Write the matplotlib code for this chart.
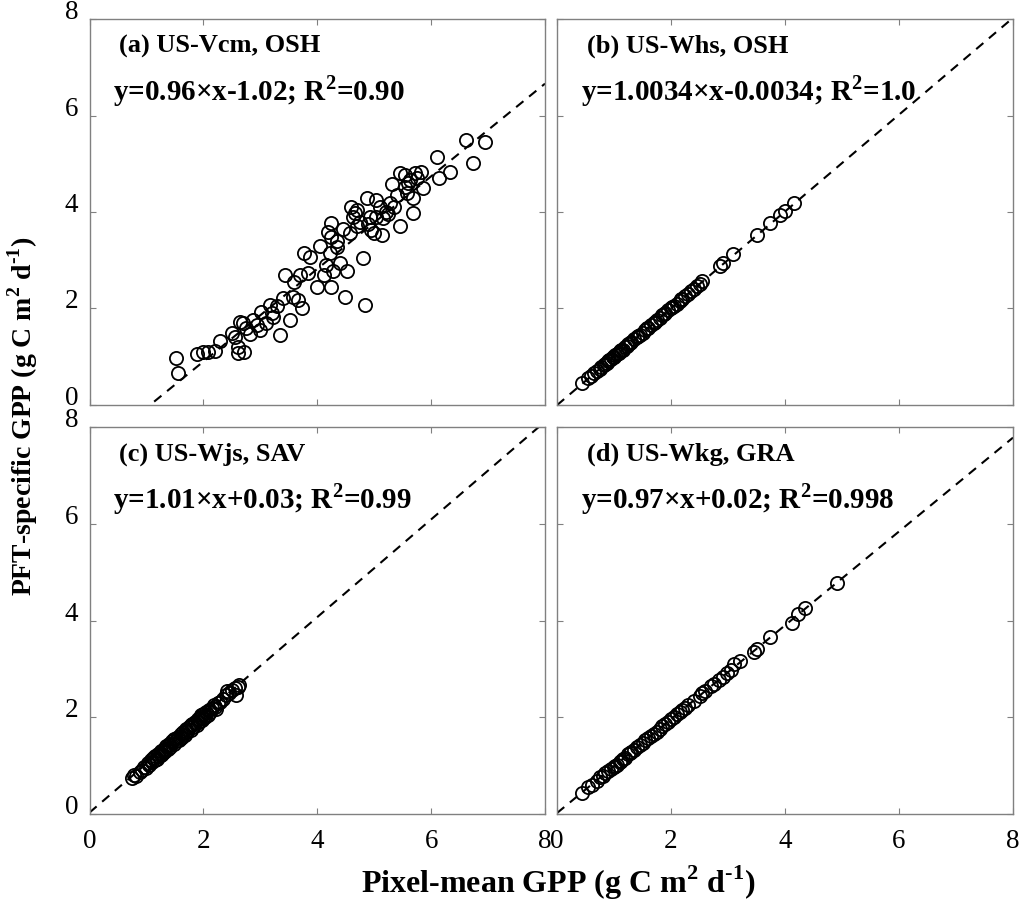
import matplotlib
matplotlib.use('Agg')
import matplotlib.pyplot as plt
import numpy as np

plt.rcParams['font.family'] = ['Liberation Serif', 'DejaVu Serif']
plt.rcParams['mathtext.fontset'] = 'custom'
plt.rcParams['mathtext.rm'] = 'Liberation Serif'
plt.rcParams['mathtext.bf'] = 'Liberation Serif:bold'

# (a) US-Vcm
xa = [1.52, 1.56, 1.89, 2.00, 2.09, 2.29, 2.50, 2.61, 2.61, 2.71, 2.64, 2.70, 2.82, 2.88,
      3.00, 3.02, 3.17, 3.20, 3.23, 3.35, 3.43, 3.40, 3.52, 3.58, 3.67, 3.73, 3.70, 3.76,
      3.87, 3.84, 3.99, 4.11, 4.19, 4.25, 4.25, 4.22, 4.34, 4.40, 4.25, 4.28, 4.52, 4.49,
      4.57, 4.60, 4.63, 4.69, 4.66, 4.81, 4.84, 4.87, 4.93, 4.99, 5.04, 5.04, 5.13, 5.16,
      5.28, 5.34, 5.31, 5.45, 5.45, 5.54, 5.54, 5.63, 5.69, 5.69, 5.72, 5.83, 5.86, 6.10,
      6.13, 6.33, 6.62, 6.74, 6.94, 5.40, 5.58, 5.20, 4.75, 4.45, 3.10, 2.95, 3.30, 4.05,
      4.70, 5.10, 5.60, 2.75, 4.15, 4.90, 2.20, 2.55, 3.60, 4.35, 4.95, 5.25, 5.75]
ya = [0.97, 0.67, 1.05, 1.10, 1.10, 1.33, 1.50, 1.21, 1.07, 1.10, 1.73, 1.70, 1.48, 1.76,
      1.55, 1.93, 2.07, 1.90, 1.83, 1.45, 2.69, 2.21, 1.76, 2.24, 2.17, 2.00, 2.69, 3.16,
      3.07, 2.73, 2.45, 2.69, 3.59, 3.77, 3.49, 3.14, 3.28, 2.94, 2.45, 2.77, 2.77, 2.24,
      3.56, 4.11, 3.90, 3.70, 3.97, 3.04, 2.07, 4.28, 3.90, 3.56, 4.25, 3.90, 3.52, 3.87,
      4.18, 4.11, 4.59, 3.70, 4.80, 4.77, 4.52, 4.66, 3.97, 4.28, 4.80, 4.83, 4.49, 5.15,
      4.70, 4.83, 5.49, 5.02, 5.46, 4.35, 4.40, 4.00, 3.80, 3.65, 1.70, 1.65, 2.05, 3.30,
      4.05, 4.10, 4.60, 1.60, 2.90, 3.75, 1.12, 1.40, 2.55, 3.40, 3.62, 3.95, 4.70]

# (b) US-Whs
xb = [0.43, 0.55, 0.60, 0.65, 0.70, 0.75, 0.78, 0.82, 0.85, 0.88, 0.90, 0.95, 0.98, 1.00,
      1.05, 1.08, 1.10, 1.15, 1.20, 1.22, 1.25, 1.30, 1.35, 1.40, 1.45, 1.50, 1.55, 1.60,
      1.65, 1.70, 1.75, 1.80, 1.85, 1.90, 1.95, 2.00, 2.05, 2.10, 2.15, 2.20, 2.25, 2.30,
      2.35, 2.40, 2.45, 2.50, 2.55, 2.86, 2.92, 3.09, 3.50, 3.74, 3.91, 4.00, 4.15, 1.12,
      1.28, 1.42, 1.58, 1.72, 1.88, 2.02, 2.18, 0.92, 1.02]
yb = [0.45, 0.56, 0.60, 0.66, 0.71, 0.75, 0.79, 0.82, 0.86, 0.88, 0.91, 0.95, 0.99, 1.00,
      1.06, 1.08, 1.11, 1.15, 1.21, 1.22, 1.26, 1.30, 1.36, 1.40, 1.46, 1.50, 1.56, 1.60,
      1.66, 1.70, 1.76, 1.80, 1.86, 1.90, 1.96, 2.00, 2.06, 2.10, 2.16, 2.20, 2.26, 2.30,
      2.36, 2.40, 2.46, 2.51, 2.56, 2.88, 2.94, 3.12, 3.53, 3.77, 3.94, 4.03, 4.18, 1.13,
      1.29, 1.43, 1.59, 1.73, 1.89, 2.03, 2.19, 0.93, 1.03]

# (c) US-Wjs
xc = [0.74, 0.78, 0.82, 0.88, 0.92, 0.95, 1.00, 1.02, 1.05, 1.08, 1.10, 1.12, 1.15, 1.18,
      1.20, 1.22, 1.25, 1.28, 1.30, 1.32, 1.35, 1.38, 1.40, 1.42, 1.45, 1.48, 1.50, 1.52,
      1.55, 1.58, 1.60, 1.62, 1.65, 1.68, 1.70, 1.72, 1.75, 1.78, 1.80, 1.82, 1.85, 1.88,
      1.90, 1.92, 1.95, 1.98, 2.00, 2.02, 2.05, 2.08, 2.10, 2.12, 2.15, 2.20, 2.22, 2.25,
      2.30, 2.35, 2.40, 2.41, 2.45, 2.50, 2.55, 2.58, 2.60, 2.62, 1.30, 1.40, 1.60, 1.70,
      1.85, 2.00, 1.15, 1.25, 1.48, 1.78, 1.95, 2.18]
yc = [0.74, 0.80, 0.78, 0.86, 0.90, 0.98, 0.96, 1.05, 1.02, 1.12, 1.08, 1.15, 1.20, 1.14,
      1.25, 1.20, 1.30, 1.24, 1.35, 1.30, 1.40, 1.34, 1.45, 1.38, 1.50, 1.44, 1.55, 1.50,
      1.60, 1.54, 1.66, 1.60, 1.70, 1.64, 1.76, 1.70, 1.80, 1.74, 1.86, 1.80, 1.90, 1.84,
      1.96, 1.90, 2.00, 1.94, 2.06, 2.00, 2.10, 2.04, 2.15, 2.10, 2.20, 2.22, 2.18, 2.30,
      2.32, 2.38, 2.46, 2.55, 2.50, 2.56, 2.60, 2.46, 2.62, 2.66, 1.28, 1.42, 1.58, 1.72,
      1.88, 1.98, 1.12, 1.22, 1.56, 1.84, 2.04, 2.26]

# (d) US-Wkg
xd = [0.43, 0.55, 0.62, 0.70, 0.75, 0.80, 0.85, 0.90, 0.95, 1.00, 1.05, 1.10, 1.15, 1.20,
      1.25, 1.30, 1.35, 1.40, 1.50, 1.55, 1.60, 1.70, 1.75, 1.80, 1.85, 1.90, 2.00, 2.05,
      2.10, 2.20, 2.25, 2.30, 2.40, 2.50, 2.55, 2.60, 2.70, 2.75, 2.85, 2.92, 2.98, 3.05,
      3.10, 3.21, 3.45, 3.50, 3.74, 4.12, 4.23, 4.35, 4.91, 1.12, 1.28, 1.45, 1.65, 1.95,
      2.15, 1.02]
yd = [0.43, 0.55, 0.60, 0.68, 0.76, 0.78, 0.84, 0.88, 0.94, 0.98, 1.02, 1.08, 1.14, 1.16,
      1.24, 1.28, 1.32, 1.38, 1.46, 1.52, 1.58, 1.66, 1.70, 1.76, 1.82, 1.86, 1.96, 2.00,
      2.06, 2.14, 2.20, 2.26, 2.34, 2.44, 2.50, 2.54, 2.64, 2.68, 2.78, 2.84, 2.91, 2.98,
      3.10, 3.17, 3.35, 3.42, 3.65, 3.95, 4.14, 4.25, 4.78, 1.10, 1.26, 1.42, 1.62, 1.90,
      2.10, 1.00]

titles = ['(a) US-Vcm, OSH', '(b) US-Whs, OSH', '(c) US-Wjs, SAV', '(d) US-Wkg, GRA']
eqs = [r'y=0.96×x-1.02; R$^{\mathbf{2}}$=0.90',
       r'y=1.0034×x-0.0034; R$^{\mathbf{2}}$=1.0',
       r'y=1.01×x+0.03; R$^{\mathbf{2}}$=0.99',
       r'y=0.97×x+0.02; R$^{\mathbf{2}}$=0.998']
slopes = [0.96, 1.0034, 1.01, 0.97]
intercepts = [-1.02, -0.0034, 0.03, 0.02]
ticks = [0, 2, 4, 6, 8]
xs = [xa, xb, xc, xd]
ys = [ya, yb, yc, yd]

W, H = 1019, 909
fig = plt.figure(figsize=(W / 100, H / 100), dpi=100)
# axes rectangles in pixels: left, top, right, bottom
rects = [(89.5, 19, 545, 405), (557, 19, 1013, 405),
         (89.5, 427, 545, 814), (557, 427, 1013, 814)]

for i in range(4):
    l, t, r, b = rects[i]
    ax = fig.add_axes([l / W, 1 - b / H, (r - l) / W, (b - t) / H])
    ax.plot(xs[i], ys[i], 'o', mfc='none', mec='black', ms=9.5, mew=1.3, zorder=3)
    xx = np.array([0, 8])
    ax.plot(xx, slopes[i] * xx + intercepts[i], '--', color='black', lw=1.5,
            dashes=(4.5, 3.5), zorder=2)
    ax.set_xlim(0, 8)
    ax.set_ylim(0, 8)
    ax.set_xticks(ticks)
    ax.set_yticks(ticks)
    ax.tick_params(direction='in', top=True, right=True, length=4, width=0.8,
                   color='#808080', labelsize=19.5)
    ax.tick_params(axis='x', pad=11)
    ax.tick_params(axis='y', pad=8)
    for sp in ax.spines.values():
        sp.set_color('#808080')
        sp.set_linewidth(1.0)
    if i < 2:
        ax.set_xticklabels([])
    if i % 2 == 1:
        ax.set_yticklabels([])
    else:
        # labels sit a little above their ticks, as in the original
        ax.set_yticklabels([str(v) for v in ticks], va='baseline', fontsize=19.5)
    ax.text(0.065, 0.912, titles[i], transform=ax.transAxes, fontsize=19,
            fontweight='bold', va='baseline')
    ax.text(0.052, 0.79, eqs[i], transform=ax.transAxes, fontsize=21,
            fontweight='bold', va='baseline')

fig.text(0.548, 0.029, 'Pixel-mean GPP (g C m$^{\\mathbf{2}}$ d$^{\\mathbf{\u2010 1}}$)',
         ha='center', va='center', fontsize=23, fontweight='bold')
fig.text(0.022, 0.542, 'PFT-specific GPP (g C m$^{\\mathbf{2}}$ d$^{\\mathbf{\u2010 1}}$)',
         ha='center', va='center', rotation=90, fontsize=20, fontweight='bold')

fig.savefig('out.png', dpi=100)
